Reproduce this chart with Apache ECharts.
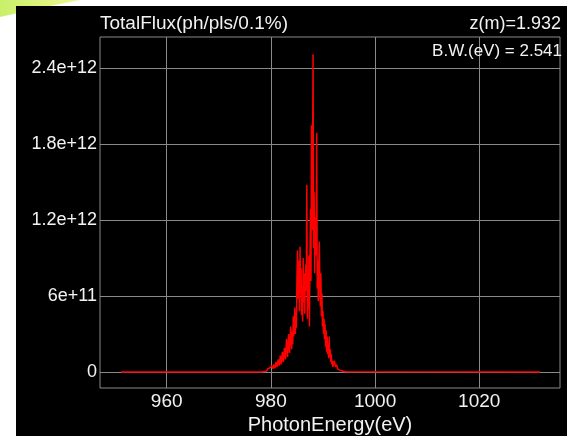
<!DOCTYPE html>
<html>
<head>
<meta charset="utf-8">
<script src="https://cdn.jsdelivr.net/npm/echarts@6/dist/echarts.min.js"></script>
<style>
html, body { margin: 0; padding: 0; background: #fff; }
#main { width: 567px; height: 436px; }
</style>
</head>
<body>
<div id="main"></div>
<script>
/* photon energy (eV) */
var energy = [
	951.2,
	978.0, 978.2, 978.4, 978.6, 978.8, 979.0, 979.2, 979.4, 979.6, 979.8,
	980.0, 980.2, 980.4, 980.6, 980.8, 981.0, 981.2, 981.4, 981.6, 981.8,
	982.0, 982.2, 982.4, 982.6, 982.8, 983.0, 983.2, 983.4, 983.6, 983.8,
	984.0, 984.1, 984.2, 984.3, 984.4, 984.5, 984.6, 984.7, 984.8, 984.9,
	985.0, 985.1, 985.2, 985.3, 985.4, 985.5, 985.6, 985.7, 985.8, 985.9,
	986.0, 986.1, 986.2, 986.3, 986.4, 986.5, 986.6, 986.7, 986.8, 986.9,
	987.0, 987.1, 987.2, 987.3, 987.4, 987.5, 987.6, 987.7, 987.8, 987.9,
	988.0, 988.1, 988.2, 988.3, 988.4, 988.5, 988.6, 988.7, 988.8, 988.9,
	989.0, 989.1, 989.2, 989.3, 989.4, 989.5, 989.6, 989.7, 989.8, 989.9,
	990.0, 990.1, 990.2, 990.3, 990.4, 990.5, 990.6, 990.7, 990.8, 990.9,
	991.0, 991.1, 991.2, 991.3, 991.4, 991.5, 991.6, 991.7, 991.8, 991.9,
	992.0, 992.2, 992.4, 992.6, 992.8, 993.0, 993.2, 993.4, 993.6, 993.8,
	994.0, 994.2, 994.4, 994.6,
	1031.7
];

/* total flux, in units of 1e10 ph/pls/0.1% */
var flux = [
	0,
	0, 0.5, 0.2, 1, 0.5, 1.5, 0.8, 2.5, 1.2, 3.5,
	2, 5, 2.5, 6, 3, 8, 4, 10, 5, 13,
	6, 16, 8, 19, 10, 26, 12, 30, 15, 36,
	18, 32, 22, 44, 28, 40, 51, 30, 47, 35,
	72, 96, 58, 66, 88, 48, 99, 62, 82, 45,
	68, 40, 90, 55, 78, 46, 70, 85, 64, 148,
	42, 74, 50, 92, 36, 88, 129, 72, 195, 112,
	160, 251, 98, 142, 78, 122, 92, 112, 189, 66,
	88, 56, 80, 103, 70, 52, 78, 44, 62, 36,
	48, 30, 42, 26, 38, 20, 33, 16, 28, 14,
	22, 11, 28, 12, 18, 8, 14, 6, 9, 4,
	6, 9, 4, 6, 2.5, 3.5, 1.5, 2, 1, 1.5,
	0.5, 0.8, 0.2, 0,
	0
];

var xTicks = [960, 980, 1000, 1020];
var yTicks = [0, 6e11, 1.2e12, 1.8e12, 2.4e12];

var titleText = 'TotalFlux(ph/pls/0.1%)';
var zText = 'z(m)=1.932';
var bwText = 'B.W.(eV) = 2.541';
var xName = 'PhotonEnergy(eV)';

/* text styles */
var font_family = 'Liberation Sans, Arial, sans-serif';
var text_color = '#f2f2f2';
var grid_color = '#8a8a8a';

var points = [];
for (var i = 0; i < energy.length; i++) {
	points.push([energy[i], flux[i] * 1e10]);
}

var chart = echarts.init(document.getElementById('main'));

var option = {
	backgroundColor: '#fff',
	animation: false,
	graphic: [{
		type: 'polygon',
		z: -20,
		shape: { points: [[0, 0], [80, 0], [45, 7], [0, 17]] },
		style: {
			fill: new echarts.graphic.LinearGradient(0, 0, 1, 0, [
				{ offset: 0, color: '#c9ef6a' },
				{ offset: 1, color: '#eef78f' }
			])
		}
	}, {
		type: 'rect',
		z: -10,
		shape: { x: 16, y: 6, width: 551, height: 430 },
		style: { fill: '#000' }
	}],
	title: [{
		text: titleText,
		left: 100,
		top: 14,
		padding: 0,
		textStyle: { color: text_color, fontSize: 19, fontWeight: 'normal', fontFamily: font_family }
	}, {
		text: zText,
		right: 6,
		top: 15,
		padding: 0,
		textStyle: { color: text_color, fontSize: 18, fontWeight: 'normal', fontFamily: font_family }
	}, {
		text: bwText,
		right: 5,
		top: 43,
		padding: 0,
		textStyle: { color: text_color, fontSize: 17, fontWeight: 'normal', fontFamily: font_family }
	}],
	grid: {
		left: 100,
		top: 37,
		right: 7,
		bottom: 48,
		show: true,
		borderColor: grid_color,
		borderWidth: 1,
		containLabel: false,
		outerBoundsMode: 'none'
	},
	xAxis: {
		type: 'value',
		min: 947.2,
		max: 1035.5,
		name: xName,
		nameLocation: 'middle',
		nameGap: 26,
		nameTextStyle: { color: text_color, fontSize: 20, fontFamily: font_family },
		axisLine: { show: false },
		axisTick: { show: false, customValues: xTicks },
		axisLabel: {
			customValues: xTicks,
			color: text_color,
			fontSize: 19,
			fontFamily: font_family,
			margin: 4,
			formatter: function (v) {
				return String(v);
			}
		},
		splitLine: { show: true, lineStyle: { color: grid_color, width: 1 } }
	},
	yAxis: {
		type: 'value',
		min: -1.26e11,
		max: 2.646e12,
		axisLine: { show: false },
		axisTick: { show: false, customValues: yTicks },
		axisLabel: {
			customValues: yTicks,
			color: text_color,
			fontSize: 18,
			fontFamily: font_family,
			margin: 3,
			formatter: function (v) {
				if (v === 0) return '0';
				return v.toExponential();
			}
		},
		splitLine: { show: true, lineStyle: { color: grid_color, width: 1 } }
	},
	series: [{
		type: 'line',
		data: points,
		showSymbol: false,
		symbol: 'none',
		sampling: false,
		lineStyle: { color: '#ff0000', width: 1.5 },
		itemStyle: { color: '#ff0000' }
	}]
};

chart.setOption(option);
</script>
</body>
</html>
